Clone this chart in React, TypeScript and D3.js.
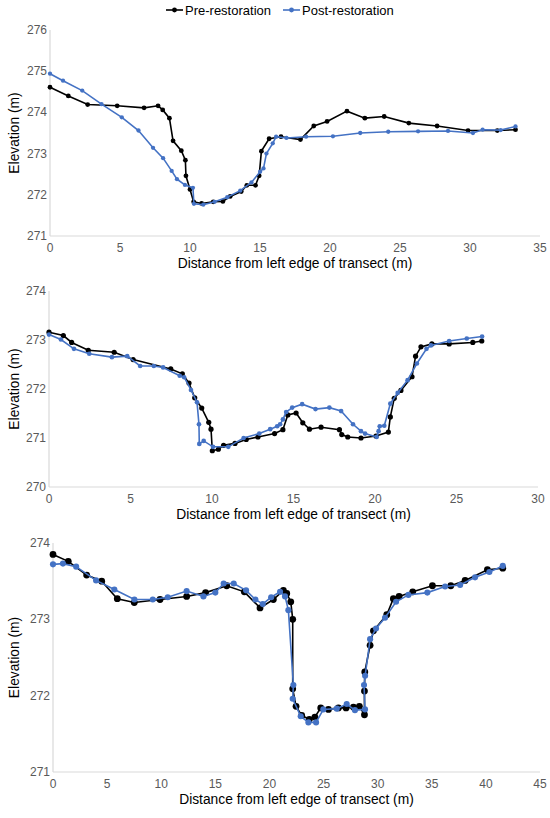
import React, { useEffect, useRef } from 'react';
import * as d3 from 'd3';

type Pt = [number, number];

// Transect 1
const t1Pre: Pt[] = [
  [0, 274.61], [1.31, 274.4], [2.69, 274.19], [4.8, 274.16], [6.72, 274.11], [7.72, 274.16],
  [8.05, 274.06], [8.53, 273.86], [8.79, 273.31], [9.38, 273.07], [9.67, 272.84], [9.71, 272.46],
  [10.0, 272.13], [10.26, 271.83], [10.83, 271.79], [11.66, 271.83], [12.35, 271.84], [12.87, 271.96],
  [13.66, 272.08], [14.06, 272.23], [14.68, 272.23], [14.94, 272.46], [15.1, 273.06], [15.65, 273.36],
  [16.5, 273.41], [17.89, 273.34], [18.84, 273.67], [19.79, 273.78], [21.21, 274.03], [22.49, 273.86],
  [23.87, 273.9], [25.63, 273.74], [27.65, 273.67], [29.86, 273.56], [31.95, 273.56], [33.25, 273.58],
];
const t1Post: Pt[] = [
  [0, 274.94], [0.93, 274.77], [2.3, 274.53], [3.68, 274.2], [5.13, 273.88], [6.32, 273.56],
  [7.36, 273.14], [8.08, 272.89], [8.69, 272.58], [9.07, 272.38], [9.64, 272.24], [10.21, 272.17],
  [10.28, 271.78], [10.95, 271.76], [11.76, 271.83], [12.66, 271.94], [13.59, 272.1], [14.39, 272.3],
  [15.01, 272.56], [15.25, 272.64], [15.46, 273.0], [15.91, 273.25], [16.15, 273.41], [16.89, 273.38],
  [18.29, 273.41], [20.21, 273.42], [22.16, 273.5], [24.16, 273.53], [26.29, 273.54], [28.43, 273.55],
  [30.21, 273.5], [30.9, 273.58], [32.19, 273.57], [33.25, 273.66],
];

// Transect 2
const t2Pre: Pt[] = [
  [0, 273.16], [0.88, 273.09], [1.39, 272.95], [2.41, 272.79], [4.0, 272.75], [5.16, 272.6],
  [7.47, 272.41], [8.18, 272.31], [8.59, 272.12], [8.94, 271.82], [9.37, 271.61], [9.8, 271.32],
  [9.94, 271.18], [10.02, 270.74], [10.39, 270.77], [10.71, 270.85], [11.41, 270.89], [12.1, 270.97],
  [12.82, 271.02], [13.84, 271.09], [14.35, 271.17], [14.65, 271.47], [15.16, 271.51], [15.57, 271.31],
  [15.98, 271.18], [16.69, 271.22], [17.82, 271.17], [17.96, 271.07], [18.33, 271.02], [19.14, 271.0],
  [20.06, 271.04], [20.82, 271.12], [20.94, 271.43], [21.18, 271.81], [21.59, 271.97], [22.27, 272.25],
  [22.49, 272.67], [22.82, 272.86], [23.49, 272.92], [24.55, 272.92], [26.0, 272.95], [26.55, 272.98],
];
const t2Post: Pt[] = [
  [0, 273.11], [0.73, 273.01], [1.53, 272.82], [2.47, 272.72], [3.86, 272.65], [4.8, 272.67],
  [5.59, 272.47], [6.43, 272.47], [7.0, 272.44], [8.02, 272.27], [8.29, 272.24], [8.71, 271.98],
  [9.08, 271.73], [9.2, 271.28], [9.22, 270.88], [9.49, 270.94], [10.06, 270.82], [11.0, 270.82],
  [11.94, 271.0], [12.9, 271.09], [13.57, 271.18], [14.0, 271.24], [14.18, 271.28], [14.35, 271.38],
  [14.55, 271.53], [14.92, 271.62], [15.53, 271.69], [16.35, 271.59], [17.2, 271.62], [17.92, 271.55],
  [18.65, 271.28], [19.14, 271.14], [19.39, 271.09], [20.1, 271.02], [20.22, 271.14], [20.29, 271.24],
  [20.57, 271.25], [20.94, 271.7], [21.39, 271.92], [22.0, 272.18], [22.57, 272.52], [23.16, 272.82],
  [23.43, 272.89], [24.55, 272.98], [25.63, 273.03], [26.57, 273.07],
];

// Transect 3
const t3Pre: Pt[] = [
  [0, 273.85], [1.41, 273.76], [3.11, 273.58], [4.5, 273.5], [5.94, 273.27], [7.51, 273.22],
  [9.89, 273.26], [12.35, 273.3], [14.1, 273.35], [16.05, 273.44], [17.68, 273.36], [19.13, 273.15],
  [20.36, 273.26], [21.29, 273.38], [21.6, 273.34], [21.97, 273.23], [22.15, 273.0], [22.15, 272.09],
  [22.46, 271.86], [22.98, 271.74], [23.69, 271.69], [24.2, 271.72], [24.74, 271.84], [25.45, 271.82],
  [26.37, 271.84], [27.08, 271.84], [27.76, 271.85], [28.31, 271.86], [28.78, 271.75], [28.78, 272.06],
  [28.81, 272.31], [29.3, 272.66], [29.61, 272.85], [30.84, 273.06], [31.45, 273.27], [31.98, 273.3],
  [33.24, 273.36], [35.06, 273.44], [36.76, 273.44], [38.08, 273.51], [40.14, 273.65], [41.56, 273.67],
];
const t3Post: Pt[] = [
  [0, 273.72], [0.92, 273.73], [2.14, 273.69], [3.98, 273.51], [5.67, 273.39], [7.52, 273.26],
  [9.22, 273.26], [10.6, 273.29], [12.35, 273.37], [13.9, 273.3], [15.0, 273.35], [15.77, 273.47],
  [16.7, 273.47], [17.84, 273.38], [18.7, 273.26], [19.38, 273.2], [20.16, 273.29], [20.98, 273.36],
  [21.44, 273.3], [21.75, 273.12], [22.21, 272.14], [22.15, 271.96], [22.89, 271.73], [23.6, 271.65],
  [24.31, 271.65], [24.98, 271.82], [26.22, 271.83], [27.14, 271.89], [27.9, 271.81], [28.83, 271.82],
  [28.74, 272.14], [28.84, 272.26], [29.3, 272.74], [29.85, 272.88], [30.68, 273.02], [31.7, 273.23],
  [32.84, 273.32], [34.59, 273.35], [36.23, 273.43], [37.62, 273.45], [39.0, 273.55], [40.32, 273.62],
  [41.56, 273.7],
];

const seriesNames = ['Pre-restoration', 'Post-restoration'];
const preColor = '#000000';
const postColor = '#4472c4';

const xTitle = 'Distance from left edge of transect (m)';
const yTitle = 'Elevation (m)';

const panels = [
  { pre: t1Pre, post: t1Post, xMax: 35, xStep: 5, yMin: 271, yMax: 276, box: [50, 30, 540, 236], r: 2.4 },
  { pre: t2Pre, post: t2Post, xMax: 30, xStep: 5, yMin: 270, yMax: 274, box: [49, 291, 538, 487], r: 2.6 },
  { pre: t3Pre, post: t3Post, xMax: 45, xStep: 5, yMin: 271, yMax: 274, box: [53, 543, 540, 772], r: 3.4 },
];

const App: React.FC = () => {
  const svgRef = useRef<SVGSVGElement>(null);

  useEffect(() => {
    if (!svgRef.current) return;
    const svg = d3.select(svgRef.current);
    svg.selectAll('*').remove();
    const font = 'Liberation Sans, Arial, sans-serif';

    panels.forEach((p) => {
      const [x0, y0, x1, y1] = p.box;
      const x = d3.scaleLinear().domain([0, p.xMax]).range([x0, x1]);
      const y = d3.scaleLinear().domain([p.yMin, p.yMax]).range([y1, y0]);
      const g = svg.append('g');

      // axes lines
      g.append('line').attr('x1', x0).attr('x2', x0).attr('y1', y0).attr('y2', y1)
        .attr('stroke', '#d9d9d9').attr('stroke-width', 1.2);
      g.append('line').attr('x1', x0).attr('x2', x1).attr('y1', y1).attr('y2', y1)
        .attr('stroke', '#d9d9d9').attr('stroke-width', 1.2);

      const xTicks = d3.range(0, p.xMax + 0.001, p.xStep);
      g.selectAll('.xt').data(xTicks).enter().append('text')
        .attr('x', (d) => x(d)).attr('y', y1 + 16)
        .attr('text-anchor', 'middle').attr('font-family', font).attr('font-size', 12)
        .attr('fill', '#595959').text((d) => `${d}`);

      const yTicks = d3.range(p.yMin, p.yMax + 0.001, 1);
      g.selectAll('.yt').data(yTicks).enter().append('text')
        .attr('x', x0 - 3).attr('y', (d) => y(d) + 4)
        .attr('text-anchor', 'end').attr('font-family', font).attr('font-size', 12)
        .attr('fill', '#595959').text((d) => `${d}`);

      g.append('text').attr('x', (x0 + x1) / 2).attr('y', y1 + 32)
        .attr('text-anchor', 'middle').attr('font-family', font).attr('font-size', 13.8)
        .attr('fill', '#000').text(xTitle);

      g.append('text')
        .attr('transform', `translate(19,${(y0 + y1) / 2}) rotate(-90)`)
        .attr('text-anchor', 'middle').attr('font-family', font).attr('font-size', 13.8)
        .attr('fill', '#000').text(yTitle);

      const line = d3.line<Pt>().x((d) => x(d[0])).y((d) => y(d[1]));
      [
        { data: p.pre, color: preColor },
        { data: p.post, color: postColor },
      ].forEach((s) => {
        g.append('path').datum(s.data).attr('fill', 'none').attr('stroke', s.color)
          .attr('stroke-width', 1.6).attr('d', line);
        g.selectAll(null).data(s.data).enter().append('circle')
          .attr('cx', (d) => x(d[0])).attr('cy', (d) => y(d[1]))
          .attr('r', s.color === preColor ? p.r : p.r * 0.9).attr('fill', s.color);
      });
    });

    // legend
    const legend = [
      { name: seriesNames[0], color: preColor, x: 166 },
      { name: seriesNames[1], color: postColor, x: 283 },
    ];
    legend.forEach((l) => {
      svg.append('line').attr('x1', l.x).attr('x2', l.x + 17).attr('y1', 10).attr('y2', 10)
        .attr('stroke', l.color).attr('stroke-width', 1.6);
      svg.append('circle').attr('cx', l.x + 8.5).attr('cy', 10).attr('r', 2.4).attr('fill', l.color);
      svg.append('text').attr('x', l.x + 19).attr('y', 14.5).attr('font-family', font)
        .attr('font-size', 13).attr('fill', '#000').text(l.name);
    });
  }, []);

  return (
    <svg ref={svgRef} width={550} height={818}
      style={{ position: 'absolute', left: 0, top: 0, background: '#fff' }} />
  );
};

export default App;
